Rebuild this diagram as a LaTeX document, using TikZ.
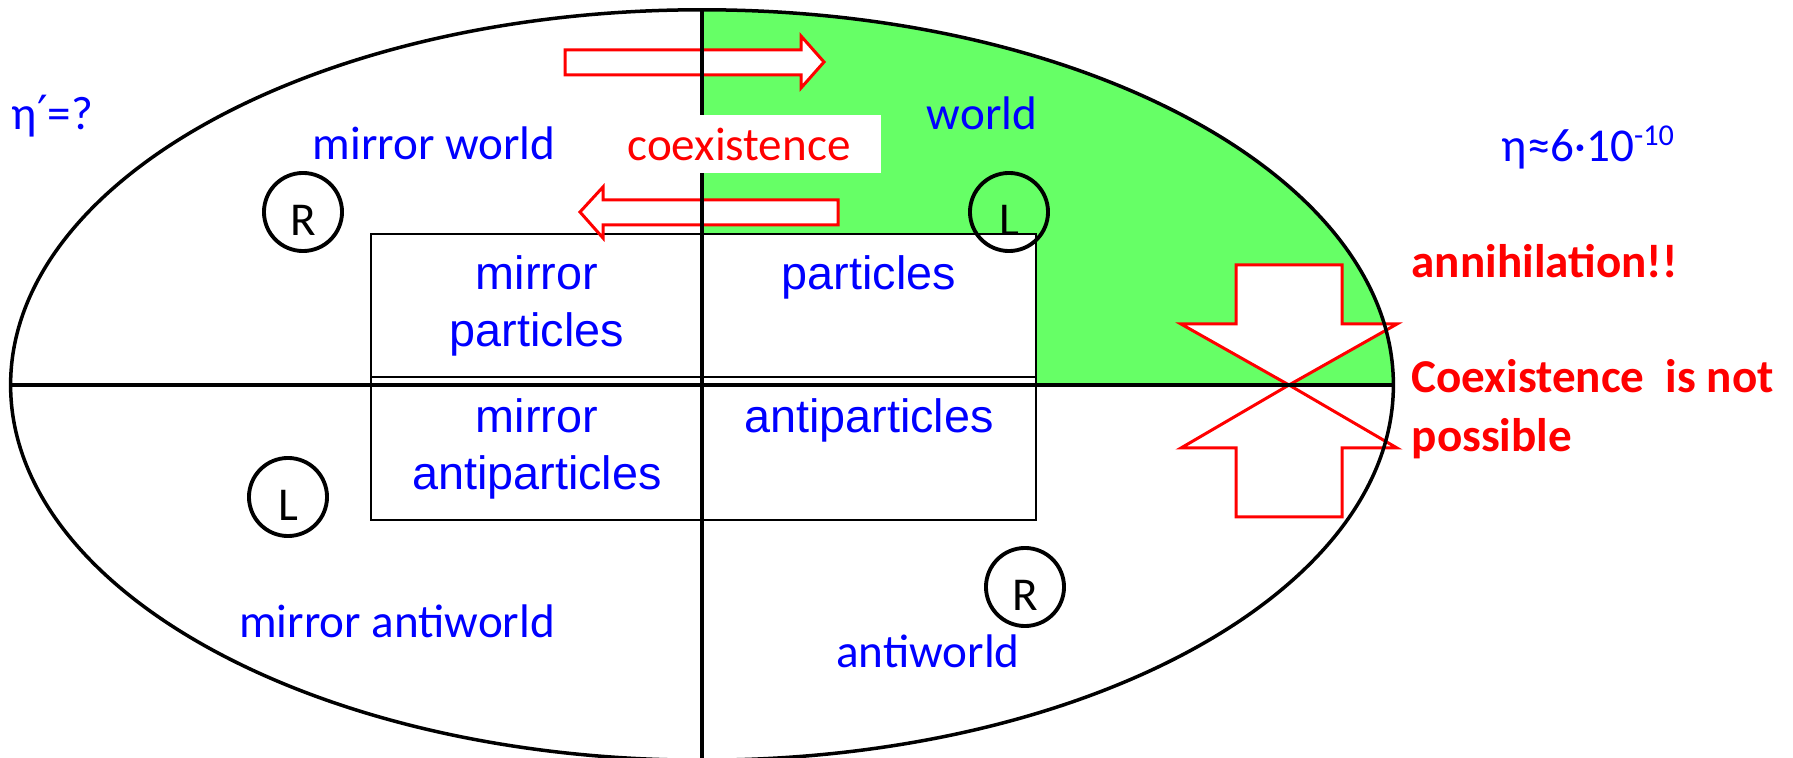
\documentclass[tikz,border=0pt]{standalone}
\usepackage{fontspec}
\setmainfont{Carlito}
\newfontfamily\arialfont{Liberation Sans}
\newfontfamily\symfont{DejaVu Sans}
\definecolor{worldgreen}{RGB}{102,255,102}

\begin{document}
\begin{tikzpicture}[x=0.01cm, y=-0.01cm,
    lbl/.style={inner sep=0, text=blue, font=\fontsize{13.4}{16}\selectfont},
    boxtxt/.style={inner sep=0, text=blue, font=\arialfont\fontsize{13.3}{16}\selectfont},
    warn/.style={inner sep=0, text=red, font=\bfseries\fontsize{13.4}{16}\selectfont},
    hand/.style={circle, draw, line width=1.1pt, minimum size=0.78cm, inner sep=0,
      text height=0.46cm, text depth=0cm, font=\fontsize{13.4}{16}\selectfont},
    hollow/.style={draw=red, fill=white, line width=0.03cm, line join=miter},
    axis/.style={line width=0.04cm}]
  \useasboundingbox (0,0) rectangle (1793,758);
  \fill[white] (0,0) rectangle (1793,758);
  \coordinate (C) at (702,385);
  \coordinate (N) at (702,10);
  \coordinate (S) at (702,760);
  \coordinate (W) at (11,385);
  \coordinate (E) at (1393,385);
  % world quadrant
  \begin{scope}
    \clip (702,0) rectangle (1400,385);
    \fill[worldgreen] (C) ellipse [x radius=6.91cm, y radius=3.75cm];
  \end{scope}
  % particle table
  \draw[line width=0.02cm, fill=white] (371,234) rectangle (1036,520);
  \draw[line width=0.02cm] (371,377) -- (1036,377);
  % coexistence arrows
  \draw[hollow] (565,50) -- (801,50) -- (801,36) -- (824,62) -- (801,88) -- (801,75) -- (565,75) -- cycle;
  \draw[hollow] (838,200) -- (603,200) -- (603,187) -- (580,212) -- (603,238) -- (603,225) -- (838,225) -- cycle;
  % annihilation arrows
  \draw[hollow] (1236,265) -- (1342,265) -- (1342,324) -- (1397,324) -- (1289,385) -- (1181,324) -- (1236,324) -- cycle;
  \draw[hollow] (1236,517) -- (1342,517) -- (1342,448) -- (1397,448) -- (1289,385) -- (1181,448) -- (1236,448) -- cycle;
  % ellipse and axes
  \draw[line width=0.035cm] (C) ellipse [x radius=6.91cm, y radius=3.75cm];
  \draw[axis] (N) -- (S);
  \draw[axis] (W) -- (E);
  \node (coex) [fill=white, inner sep=0, minimum width=2.84cm, minimum height=0.58cm,
    text height=0.32cm, text depth=0cm, text=red, font=\fontsize{13.4}{16}\selectfont] at (739,144) {coexistence};
  % labels
  \node (etamirror) [lbl, anchor=base west] at (11,130) {η{\symfont ′}=?};
  \node (mworld) [lbl, anchor=base] at (434,160) {mirror world};
  \node (world) [lbl, anchor=base] at (982,130) {world};
  \node (eta) [lbl, anchor=base west] at (1501,162) {η≈6·10\raisebox{0.16cm}{\fontsize{8.6}{10}\selectfont -10}};
  \node (annih) [warn, anchor=base west] at (1411,278) {annihilation!!};
  \node (nocoex) [warn, anchor=base west] at (1411,393) {Coexistence\ \ is not};
  \node (possible) [warn, anchor=base west] at (1411,452) {possible};
  \node (mwanti) [lbl, anchor=base] at (397,638) {mirror antiworld};
  \node (anti) [lbl, anchor=base] at (928,668) {antiworld};
  % table entries
  \node (mpartA) [boxtxt, anchor=base] at (537,290) {mirror};
  \node (mpartB) [boxtxt, anchor=base] at (537,347) {particles};
  \node (part) [boxtxt, anchor=base] at (869,290) {particles};
  \node (mantiA) [boxtxt, anchor=base] at (537,433) {mirror};
  \node (mantiB) [boxtxt, anchor=base] at (537,490) {antiparticles};
  \node (antipart) [boxtxt, anchor=base] at (869,433) {antiparticles};
  % chirality
  \node (rmirror) [hand] at (303,212) {R};
  \node (lworld) [hand] at (1009,212) {L};
  \node (lmirror) [hand] at (288,497) {L};
  \node (ranti) [hand] at (1025,587) {R};
\end{tikzpicture}
\end{document}
